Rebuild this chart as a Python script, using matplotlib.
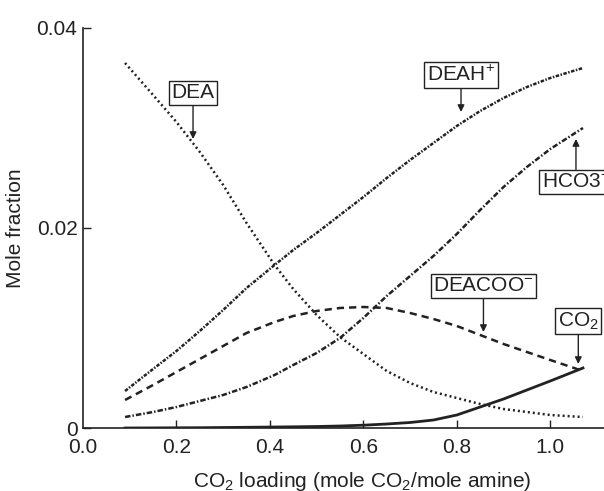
import matplotlib
matplotlib.use("Agg")
import matplotlib.pyplot as plt

plt.rcParams['font.family'] = ['Liberation Sans', 'DejaVu Sans']
plt.rcParams['mathtext.default'] = 'regular'
plt.rcParams['font.size'] = 15

# CO2 loading (mole CO2 / mole amine)
loading = [0.09, 0.15, 0.2, 0.25, 0.3, 0.35, 0.41, 0.45, 0.5, 0.55,
           0.6, 0.65, 0.7, 0.75, 0.8, 0.85, 0.9, 0.95, 1.0, 1.07]

# mole fractions of each species
dea    = [0.0365, 0.0333, 0.0306, 0.0276, 0.0243, 0.0205, 0.0163, 0.0139, 0.0113, 0.0091,
          0.0074, 0.0057, 0.0045, 0.0036, 0.0030, 0.0024, 0.0019, 0.0016, 0.0013, 0.0011]
deah   = [0.0037, 0.0059, 0.0077, 0.0097, 0.0118, 0.0140, 0.0163, 0.0178, 0.0195, 0.0213,
          0.0231, 0.0250, 0.0268, 0.0285, 0.0302, 0.0317, 0.0330, 0.0341, 0.0350, 0.0360]
hco3   = [0.0011, 0.0016, 0.0021, 0.0027, 0.0033, 0.0041, 0.0053, 0.0063, 0.0075, 0.0090,
          0.0110, 0.0132, 0.0152, 0.0172, 0.0194, 0.0218, 0.0241, 0.0261, 0.0279, 0.0300]
deacoo = [0.0028, 0.0043, 0.0056, 0.0069, 0.0082, 0.0095, 0.0106, 0.0112, 0.0117, 0.0120,
          0.0121, 0.0120, 0.0115, 0.0109, 0.0102, 0.0093, 0.0084, 0.0076, 0.0068, 0.0057]
co2    = [0.0, 0.00001, 0.00002, 0.00003, 0.00005, 0.00007, 0.0001, 0.00012, 0.00015, 0.0002,
          0.00028, 0.0004, 0.00055, 0.0008, 0.0013, 0.0021, 0.0029, 0.0038, 0.0047, 0.0060]

xticks = [0.2, 0.4, 0.6, 0.8, 1.0]
xtick_labels = ['0.2', '0.4', '0.6', '0.8', '1.0']
yticks = [0.0, 0.02, 0.04]
ytick_labels = ['0', '0.02', '0.04']

ink = '#222222'

fig = plt.figure(figsize=(6.04, 4.91), dpi=100)
ax = fig.add_axes([0.1374, 0.1283, 0.8626, 0.8147])

lw = 1.8
ax.plot(loading, dea, color=ink, lw=lw, linestyle=(0, (0.8, 1.2)))
ax.plot(loading, deah, color=ink, lw=lw, linestyle=(0, (1.4, 0.6, 0.6, 0.6)))
ax.plot(loading, hco3, color=ink, lw=lw, linestyle=(0, (2.2, 0.8, 0.6, 0.8)))
ax.plot(loading, deacoo, color=ink, lw=lw, linestyle=(0, (2.9, 2.0)))
ax.plot(loading, co2, color=ink, lw=2.0, linestyle='-')

ax.set_xlim(0, 1.115)
ax.set_ylim(0, 0.04)
ax.spines['top'].set_visible(False)
ax.spines['right'].set_visible(False)
for s in ('left', 'bottom'):
    ax.spines[s].set_linewidth(1.2)
    ax.spines[s].set_color(ink)

ax.set_xticks(xticks)
ax.set_xticklabels(xtick_labels)
ax.set_yticks(yticks)
ax.set_yticklabels(ytick_labels)
ax.tick_params(axis='both', direction='in', length=6, width=1, color=ink, labelcolor=ink)
ax.tick_params(axis='x', pad=7)
ax.tick_params(axis='y', pad=4)
# 0.0 label sits under the corner of the axes, level with the other x labels
ax.text(0.0, -0.00097, '0.0', ha='center', va='top', color=ink)

ax.set_ylabel('Mole fraction', labelpad=8, color=ink)
ax.set_xlabel('CO$_2$ loading (mole CO$_2$/mole amine)', color=ink)
ax.xaxis.set_label_coords(0.537, -0.105)

box = dict(boxstyle='square,pad=0.12', fc='white', ec=ink, lw=1)
arrow = dict(arrowstyle='-|>', color=ink, lw=1, mutation_scale=10, shrinkA=0, shrinkB=0)

labels = [
    ('DEA', (0.2355, 0.0289), (0.2355, 0.0335)),
    ('DEAH$^{+}$', (0.809, 0.0316), (0.809, 0.0353)),
    ('HCO3$^{-}$', (1.055, 0.0289), (1.055, 0.0246)),
    ('DEACOO$^{-}$', (0.857, 0.0096), (0.857, 0.0142)),
    ('CO$_2$', (1.06, 0.0064), (1.06, 0.0107)),
]
for txt, xy, xytext in labels:
    ax.annotate(txt, xy=xy, xytext=xytext, ha='center', va='center',
                bbox=box, arrowprops=arrow, color=ink, annotation_clip=False)

fig.savefig('out.png', dpi=100)
